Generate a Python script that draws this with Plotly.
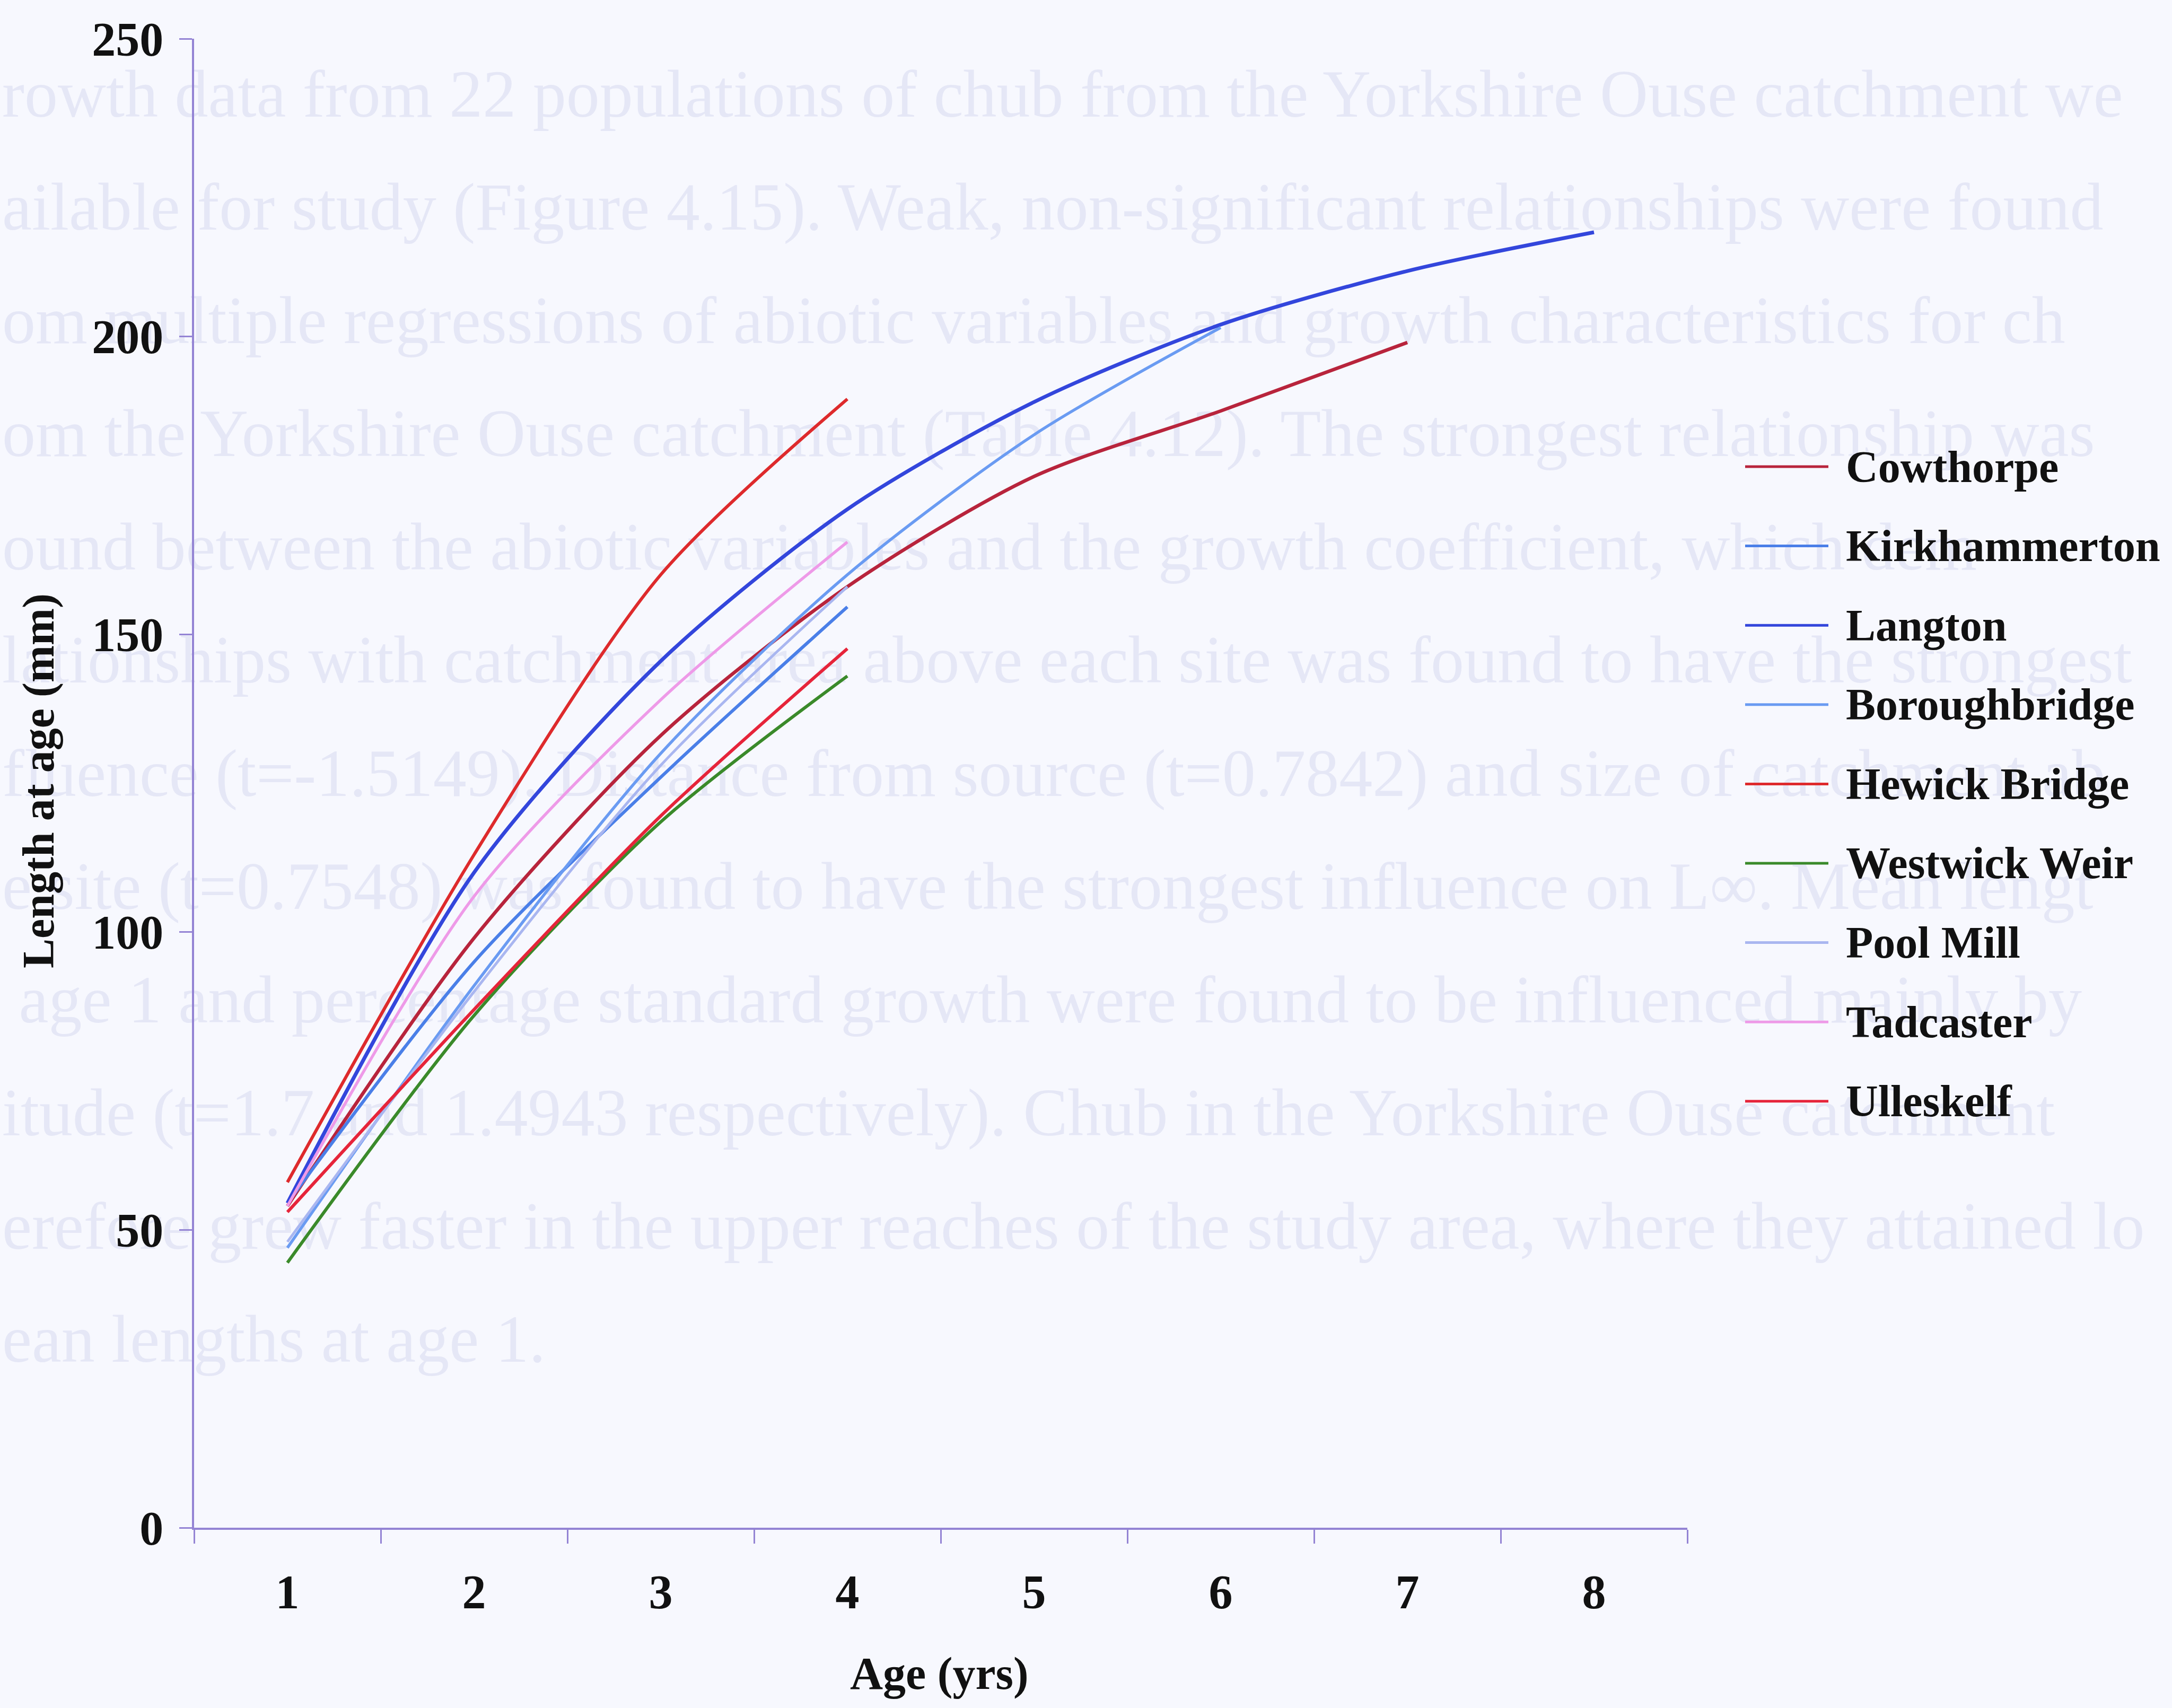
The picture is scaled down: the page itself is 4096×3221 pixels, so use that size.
import plotly.graph_objects as go

# Canvas size in pixels
W, H = 4096, 3221

# ---- data -------------------------------------------------------------
ages = ["1", "2", "3", "4", "5", "6", "7", "8"]

site_names = ["Cowthorpe", "Kirkhammerton", "Langton", "Boroughbridge",
              "Hewick Bridge", "Westwick Weir", "Pool Mill", "Tadcaster",
              "Ulleskelf"]

cowthorpe = [54, 99, 133, 158, 176.5, 187.5, 199]
kirkhammerton = [54.5, 95, 126, 154.6]
langton = [54.5, 110, 145.5, 171, 189, 202, 211, 217.5]
boroughbridge = [47, 91, 130, 160, 183.5, 201.5]
hewick_bridge = [58, 113, 160, 189.5]
westwick_weir = [44.5, 86, 118.5, 143]
pool_mill = [48, 90, 128, 158]
tadcaster = [54, 106, 139, 165.5]
ulleskelf = [53, 87, 119.5, 147.6]

length_ticks = [0, 50, 100, 150, 200, 250]

# Page text showing through faintly from the facing page
page_lines = [
    "rowth data from 22 populations of chub from the Yorkshire Ouse catchment we",
    "ailable for study (Figure 4.15). Weak, non-significant relationships were found",
    "om multiple regressions of abiotic variables and growth characteristics for ch",
    "om the Yorkshire Ouse catchment (Table 4.12). The strongest relationship was",
    "ound between the abiotic variables and the growth coefficient, which dem",
    "lationships with catchment area above each site was found to have the strongest",
    "fluence (t=-1.5149). Distance from source (t=0.7842) and size of catchment ab",
    "e site (t=0.7548) was found to have the strongest influence on L\u221e. Mean lengt",
    " age 1 and percentage standard growth were found to be influenced mainly by",
    "itude (t=1.7 and 1.4943 respectively). Chub in the Yorkshire Ouse catchment",
    "erefore grew faster in the upper reaches of the study area, where they attained lo",
    "ean lengths at age 1.",
]

# ---- styling ----------------------------------------------------------
series = [
    (cowthorpe, "#b8243c", 6.5),
    (kirkhammerton, "#4a7fe8", 6),
    (langton, "#3346dc", 7),
    (boroughbridge, "#6a9bf2", 5.5),
    (hewick_bridge, "#de2a2c", 6),
    (westwick_weir, "#3a8a2a", 6),
    (pool_mill, "#a9b6f0", 5),
    (tadcaster, "#ee9ae8", 5.5),
    (ulleskelf, "#e6243a", 6),
]

SERIF = "Liberation Serif, Times New Roman, serif"
BG = "#f7f8fe"
AXIS = "#9484d4"
GHOST = "#e5e7f6"

# plot area in pixels
PX0, PX1 = 366, 3182
PY_TOP, PY_BOT = 73, 2881

fig = go.Figure()

# faint page text, on a full-canvas background subplot
ghost_y0, ghost_dy = 188, 213.5
fig.add_trace(go.Scatter(
    x=[4] * len(page_lines),
    y=[ghost_y0 + i * ghost_dy for i in range(len(page_lines))],
    text=page_lines,
    mode="text",
    textposition="middle right",
    textfont=dict(family=SERIF, size=126, color=GHOST),
    hoverinfo="skip",
    showlegend=False,
    cliponaxis=True,
    xaxis="x", yaxis="y",
))

for (vals, color, width), name in zip(series, site_names):
    fig.add_trace(go.Scatter(
        x=ages[:len(vals)],
        y=vals,
        mode="lines",
        name=name,
        line=dict(color=color, width=width, shape="spline", smoothing=0.8),
        showlegend=False,
        xaxis="x2", yaxis="y2",
    ))

# hand-placed legend with long line keys
leg_y0, leg_dy = 880, 149.6
leg_x0, leg_x1, leg_tx = 3291, 3448, 3479
shapes = []
annotations = []
for i, ((vals, color, width), name) in enumerate(zip(series, site_names)):
    yc = 1 - (leg_y0 + i * leg_dy) / H
    shapes.append(dict(type="line", xref="paper", yref="paper",
                       x0=leg_x0 / W, x1=leg_x1 / W, y0=yc, y1=yc,
                       line=dict(color=color, width=5)))
    annotations.append(dict(xref="paper", yref="paper", x=leg_tx / W, y=yc,
                            xanchor="left", yanchor="middle", showarrow=False,
                            text=name,
                            font=dict(family=SERIF, size=84, color="#111111",
                                      weight="bold")))

# axis titles
annotations.append(dict(xref="paper", yref="paper", x=73 / W, y=1 - 1473 / H,
                        xanchor="center", yanchor="middle", showarrow=False,
                        textangle=-90, text="Length at age (mm)",
                        font=dict(family=SERIF, size=84, color="#111111",
                                  weight="bold")))
annotations.append(dict(xref="paper", yref="paper", x=1771 / W, y=1 - 3156 / H,
                        xanchor="center", yanchor="middle", showarrow=False,
                        text="Age (yrs)",
                        font=dict(family=SERIF, size=86, color="#111111",
                                  weight="bold")))

fig.update_layout(
    template="none",
    width=W, height=H,
    margin=dict(l=0, r=0, t=0, b=0, pad=0, autoexpand=False),
    paper_bgcolor=BG,
    plot_bgcolor="rgba(0,0,0,0)",
    showlegend=False,
    shapes=shapes,
    annotations=annotations,
    xaxis=dict(domain=[0, 1], range=[0, W], visible=False, fixedrange=True,
               automargin=False),
    yaxis=dict(domain=[0, 1], range=[H, 0], visible=False, fixedrange=True,
               automargin=False),
    xaxis2=dict(
        domain=[PX0 / W, PX1 / W], anchor="y2", automargin=False,
        type="category", categoryorder="array", categoryarray=ages,
        range=[-0.5, 7.5], tickson="boundaries",
        showline=True, linecolor=AXIS, linewidth=3.5,
        ticks="outside", ticklen=26, tickwidth=3, tickcolor=AXIS,
        showgrid=False, zeroline=False,
        tickfont=dict(family=SERIF, size=90, color="#111111", weight="bold"),
        ticklabelstandoff=40,
    ),
    yaxis2=dict(
        domain=[1 - PY_BOT / H, 1 - PY_TOP / H], anchor="x2", automargin=False,
        range=[0, 250], tickvals=length_ticks,
        showline=True, linecolor=AXIS, linewidth=3.5,
        ticks="outside", ticklen=24, tickwidth=3, tickcolor=AXIS,
        showgrid=False, zeroline=False,
        tickfont=dict(family=SERIF, size=90, color="#111111", weight="bold"),
        ticklabelstandoff=12,
    ),
)

fig.write_html("out.html")
